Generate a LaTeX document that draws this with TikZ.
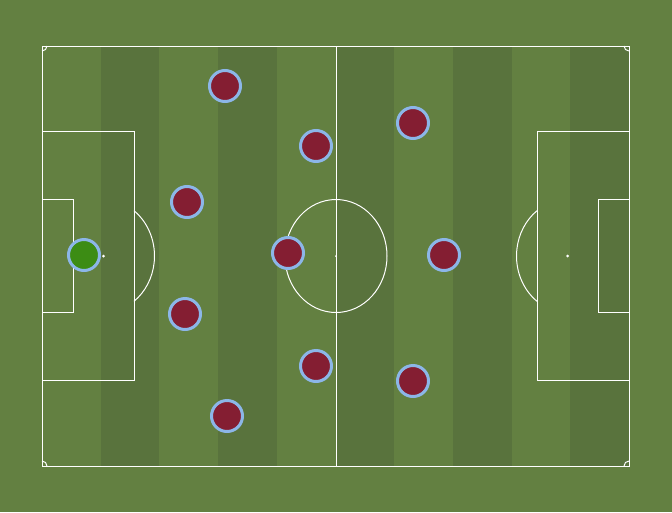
\documentclass[tikz,border=0pt]{standalone}
\definecolor{grass}{RGB}{99,128,65}
\definecolor{stripe}{RGB}{89,115,61}
\definecolor{shirt}{RGB}{132,30,50}
\definecolor{keeper}{RGB}{60,140,20}
\definecolor{rim}{RGB}{140,182,232}

\begin{document}
\begin{tikzpicture}[x=1pt, y=-1pt,
    line/.style={draw=white, line width=1},
    player/.style={circle, fill=shirt, draw=rim, line width=3, minimum size=31, inner sep=0},
    goalie/.style={player, fill=keeper}]
    \useasboundingbox (0,0) rectangle (672,512);
    \fill[grass] (0,0) rectangle (672,512);
    \foreach \i in {1,3,5,7,9}
        \fill[stripe] ({42+\i*58.7},46) rectangle ({42+(\i+1)*58.7},466);

    % markings
    \draw[line] (42,46) rectangle (629,466);
    \draw[line] (336,46) -- (336,466);
    \draw[line] (336,256) ellipse [x radius=51, y radius=56.5];
    \fill[white] (336,256) circle (1);
    \draw[line] (42,131) rectangle (134,380);
    \draw[line] (42,199) rectangle (73,312);
    \draw[line] (537,131) rectangle (629,380);
    \draw[line] (598,199) rectangle (629,312);
    \fill[white] (103.5,256) circle (1.5);
    \fill[white] (567.5,256) circle (1.5);
    \draw[line] (103.5,256) ++(-53.3:51 and 56.5) arc [start angle=-53.3, end angle=53.3, x radius=51, y radius=56.5];
    \draw[line] (567.5,256) ++(126.7:51 and 56.5) arc [start angle=126.7, end angle=233.3, x radius=51, y radius=56.5];
    \draw[line] (47,46) arc [start angle=0, end angle=90, radius=5];
    \draw[line] (624,46) arc [start angle=180, end angle=90, radius=5];
    \draw[line] (47,466) arc [start angle=0, end angle=-90, radius=5];
    \draw[line] (624,466) arc [start angle=180, end angle=270, radius=5];

    \node[goalie] (gk) at (84,255) {};
    \node[player] (p1) at (225,86) {};
    \node[player] (p2) at (187,202) {};
    \node[player] (p3) at (185,314) {};
    \node[player] (p4) at (227,416) {};
    \node[player] (p5) at (316,146) {};
    \node[player] (p6) at (288,253) {};
    \node[player] (p7) at (316,366) {};
    \node[player] (p8) at (413,123) {};
    \node[player] (p9) at (444,255) {};
    \node[player] (p10) at (413,381) {};
\end{tikzpicture}
\end{document}
